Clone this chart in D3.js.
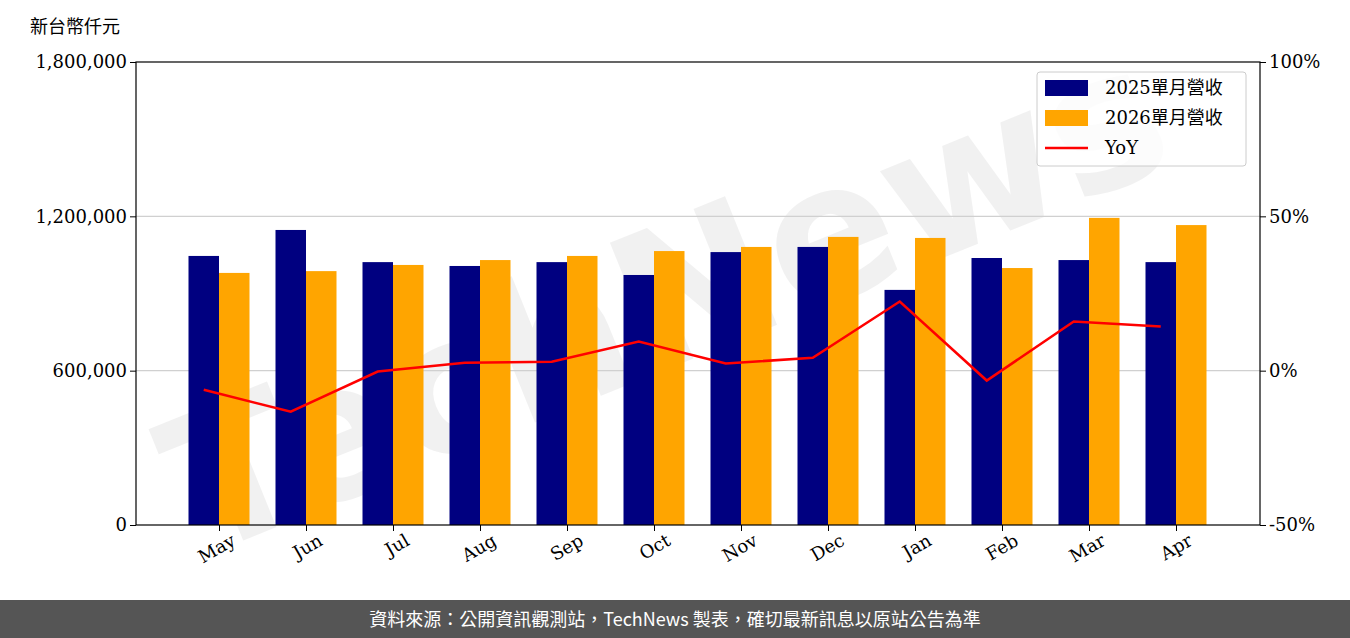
<!DOCTYPE html>
<html><head><meta charset="utf-8">
<script src="https://cdn.jsdelivr.net/npm/d3@7"></script>
<style>body{margin:0;background:#fff}</style></head>
<body><svg id="c" width="1350" height="638"></svg>
<script>
const categories=["May","Jun","Jul","Aug","Sep","Oct","Nov","Dec","Jan","Feb","Mar","Apr"];
const rev2025=[1046000,1147000,1022000,1007000,1022000,972000,1061000,1081000,914000,1038000,1030000,1022000];
const rev2026=[980000,987000,1011000,1030000,1046000,1065000,1081000,1120000,1116000,999000,1194000,1166000];
const yoy=[-6.2,-13.3,-0.3,2.6,2.9,9.4,2.3,4.2,22.4,-3.2,15.9,14.3];
const leftTicks=[0,600000,1200000,1800000];
const rightTicks=[-50,0,50,100];
const serif="'DejaVu Serif', serif", cjk="'Noto Sans CJK TC', sans-serif";
const svg=d3.select("#c");
const L=136,R=1260,T=62,B=525;
const x=d3.scaleLinear().domain([0,11]).range([219,1176]);
const y=d3.scaleLinear().domain([0,1800000]).range([B,T]);
const y2=d3.scaleLinear().domain([-50,100]).range([B,T]);
svg.append("text").attr("x",690).attr("y",360).attr("text-anchor","middle")
 .attr("transform","rotate(-22,690,360)").attr("font-family","'DejaVu Sans',sans-serif")
 .attr("font-size",190).attr("font-weight","bold").attr("fill","#d8d8d8").attr("opacity",0.35).text("TechNews");
svg.selectAll(".g").data([600000,1200000]).join("line").attr("x1",L).attr("x2",R)
 .attr("y1",d=>y(d)).attr("y2",d=>y(d)).attr("stroke","#d0d0d0").attr("stroke-width",1.2);
const bw=30.5;
svg.selectAll(".b1").data(rev2025).join("rect").attr("x",(d,i)=>x(i)-bw).attr("width",bw)
 .attr("y",d=>y(d)).attr("height",d=>B-y(d)).attr("fill","#000080");
svg.selectAll(".b2").data(rev2026).join("rect").attr("x",(d,i)=>x(i)).attr("width",bw)
 .attr("y",d=>y(d)).attr("height",d=>B-y(d)).attr("fill","#ffa500");
svg.append("path").datum(yoy).attr("d",d3.line().x((d,i)=>x(i)-bw/2).y(d=>y2(d)))
 .attr("fill","none").attr("stroke","#ff0000").attr("stroke-width",2.5);
svg.append("rect").attr("x",L).attr("y",T).attr("width",R-L).attr("height",B-T).attr("fill","none").attr("stroke","#000").attr("stroke-width",1.2);
const ax=svg.append("g").attr("transform",`translate(${L},0)`).call(d3.axisLeft(y).tickValues(leftTicks).tickFormat(d3.format(",")).tickSizeOuter(0).tickSize(6));
const ax2=svg.append("g").attr("transform",`translate(${R},0)`).call(d3.axisRight(y2).tickValues(rightTicks).tickFormat(d=>d+"%").tickSizeOuter(0).tickSize(6));
const ax3=svg.append("g").attr("transform",`translate(0,${B})`).call(d3.axisBottom(d3.scaleOrdinal().domain(categories).range(categories.map((c,i)=>x(i)))).tickSizeOuter(0).tickSize(6));
[ax,ax2,ax3].forEach(a=>{a.select(".domain").remove();a.selectAll("text").attr("font-family",serif).attr("font-size",18).attr("fill","#000");});
ax3.selectAll("text").attr("text-anchor","end").attr("dx","0.3em").attr("dy","0.9em").attr("transform","rotate(-30)");
svg.append("text").attr("x",30).attr("y",33).attr("font-family",cjk).attr("font-size",18).text("新台幣仟元");
const lg=svg.append("g");
lg.append("rect").attr("x",1037).attr("y",72).attr("width",209).attr("height",94).attr("rx",3).attr("fill","#fff").attr("fill-opacity",0.8).attr("stroke","#ccc");
const items=[["2025單月營收","#000080","r"],["2026單月營收","#ffa500","r"],["YoY","#ff0000","l"]];
items.forEach((it,i)=>{const cy=88+i*30;
 if(it[2]=="r") lg.append("rect").attr("x",1045).attr("y",cy-8).attr("width",43).attr("height",16).attr("fill",it[1]);
 else lg.append("line").attr("x1",1045).attr("x2",1088).attr("y1",cy).attr("y2",cy).attr("stroke",it[1]).attr("stroke-width",2.5);
 lg.append("text").attr("x",1105).attr("y",cy+6).attr("font-family",serif+","+cjk).attr("font-size",18).text(it[0]);});
svg.append("rect").attr("x",0).attr("y",600).attr("width",1350).attr("height",38).attr("fill","#555");
svg.append("text").attr("x",675).attr("y",626).attr("text-anchor","middle").attr("fill","#fff").attr("font-family",cjk).attr("font-size",18)
 .text("資料來源：公開資訊觀測站，TechNews 製表，確切最新訊息以原站公告為準");
</script></body></html>
